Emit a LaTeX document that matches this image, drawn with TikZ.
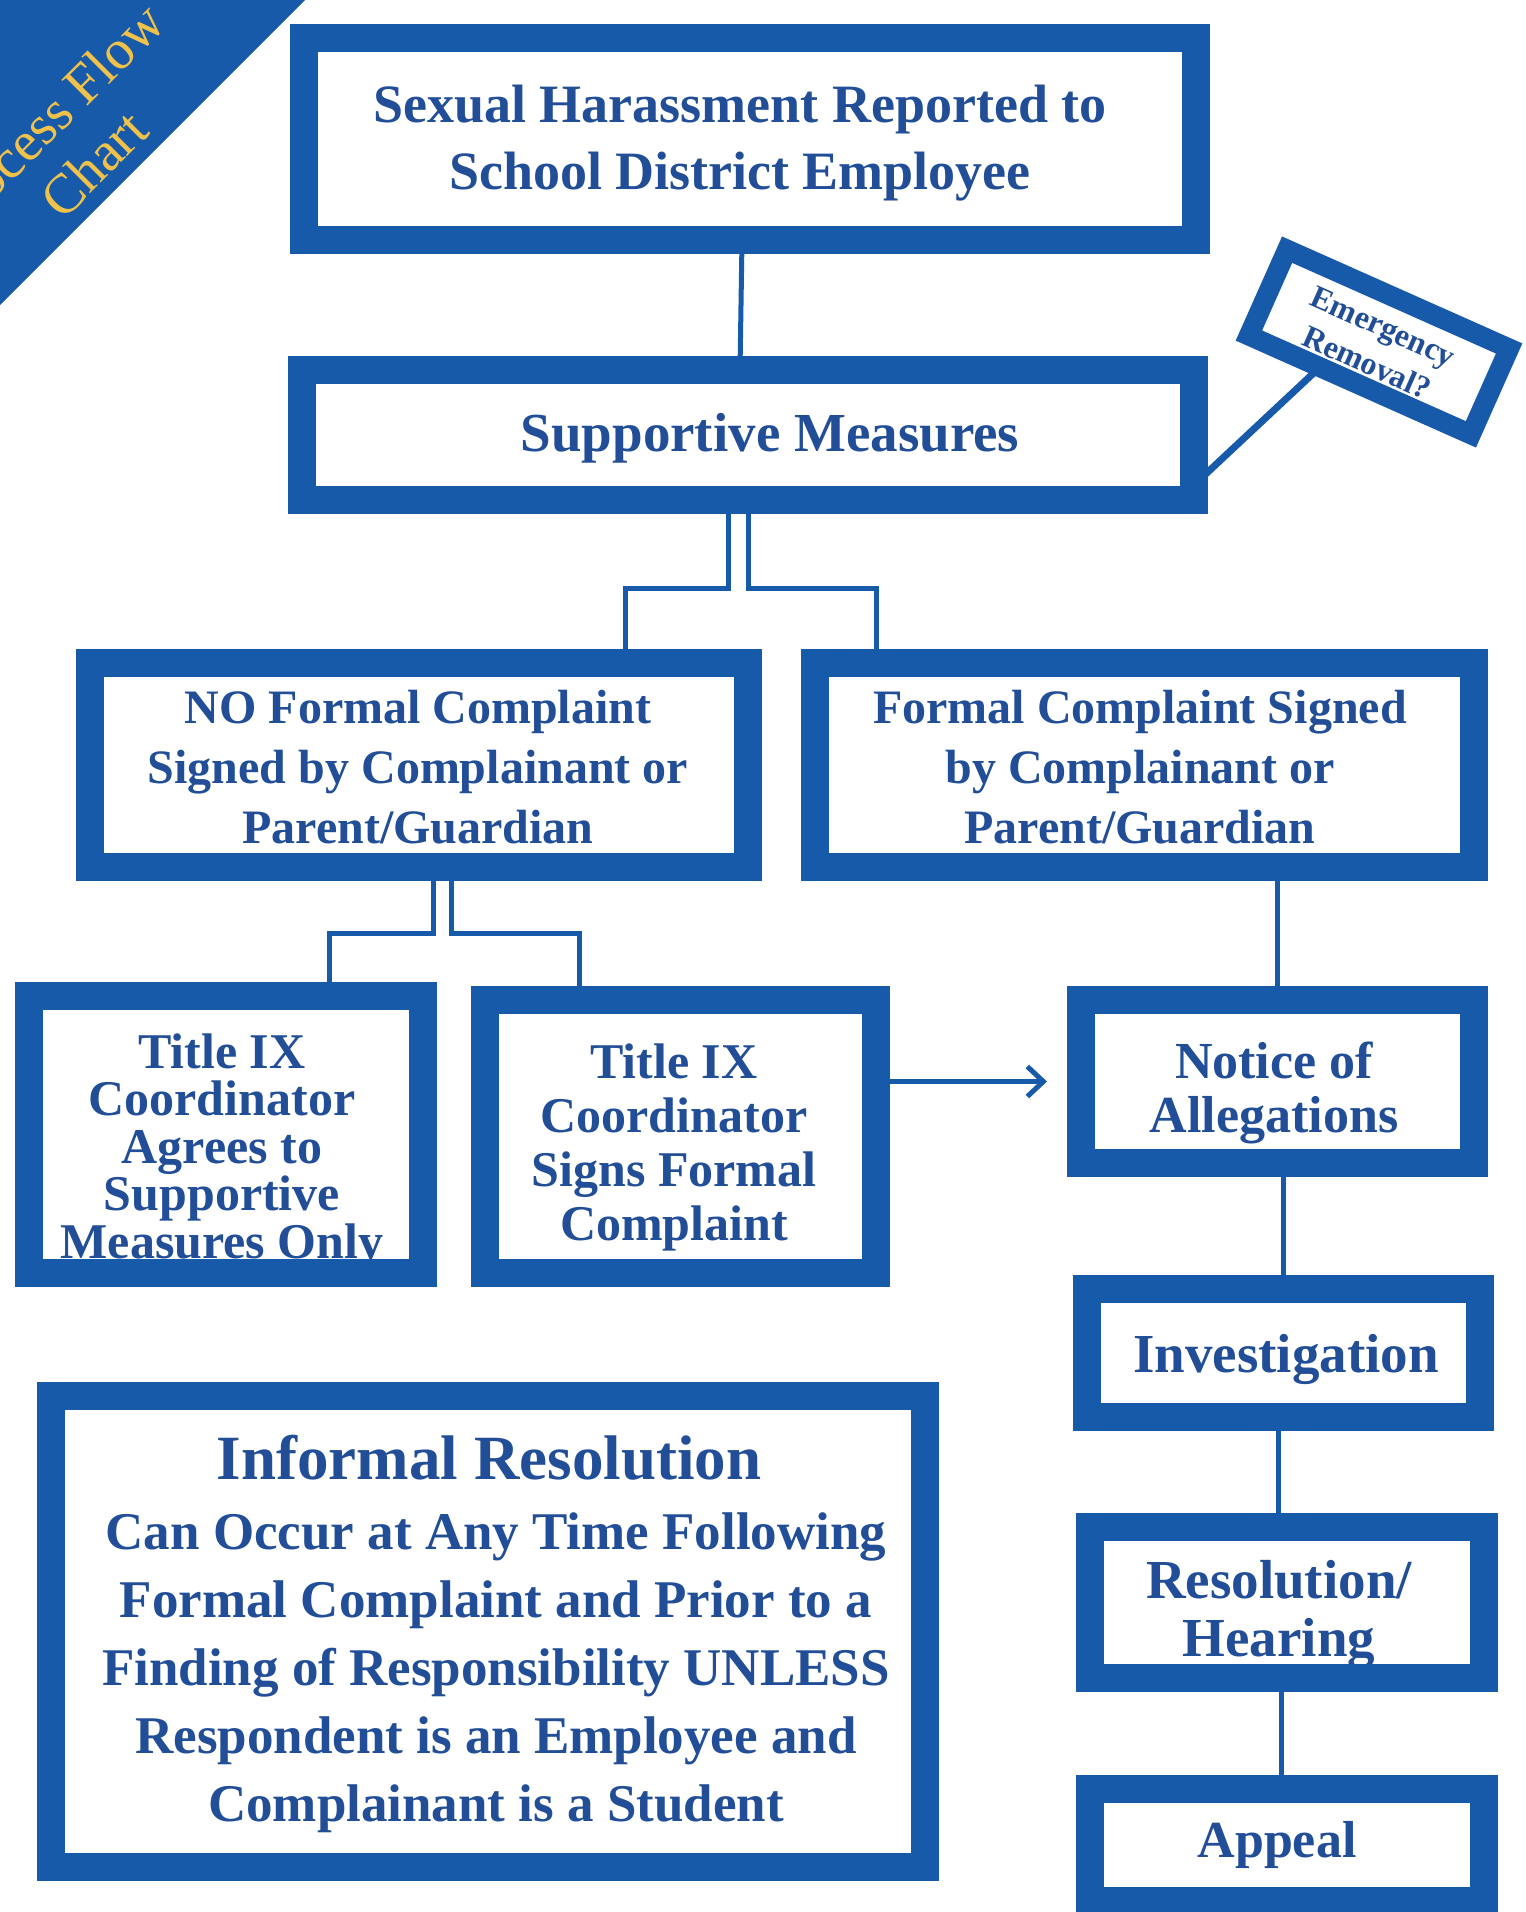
\documentclass[tikz,border=0pt]{standalone}
\usepackage{fontspec}
\setmainfont{Liberation Serif}
\usetikzlibrary{calc,arrows.meta}
\definecolor{frameblue}{HTML}{185AAA}
\definecolor{textblue}{HTML}{214E96}
\definecolor{bannergold}{HTML}{F0C24A}
\newcommand{\fs}[2]{\fontsize{#1}{#2}\selectfont}
\begin{document}
\begin{tikzpicture}[x=1pt,y=-1pt,
  frame/.style={draw=frameblue,line width=28pt,inner sep=0pt,outer sep=0pt,rectangle},
  conn/.style={draw=frameblue,line width=5pt},
  txt/.style={text=textblue,align=center,inner sep=0pt,anchor=base}]
\useasboundingbox (0,0) rectangle (1526,1912);
\clip (0,0) rectangle (1526,1912);
\fill[white] (0,0) rectangle (1526,1912);

% corner banner
\fill[frameblue] (0,0) -- (305,0) -- (0,305) -- cycle;
\node[rotate=45,text=bannergold,font=\fs{56}{64},align=center,inner sep=0pt] (bannertxt) at (71,141) {Process Flow\\Chart};

% texts (drawn first so the frames overlap them); y = baseline of last line
\node[txt,font=\bfseries\fs{54}{67}] (t1) at (740,189) {Sexual Harassment Reported to\\School District Employee};
\node[txt,font=\bfseries\fs{55}{66}] (t2) at (770,451) {Supportive Measures};
\node[txt,font=\bfseries\fs{48}{60}] (t3) at (418,843) {NO Formal Complaint\\Signed by Complainant or\\Parent/Guardian};
\node[txt,font=\bfseries\fs{48}{60}] (t4) at (1140,843) {Formal Complaint Signed\\by Complainant or\\Parent/Guardian};
\node[txt,font=\bfseries\fs{50}{47.5}] (t5) at (222,1258) {Title IX\\Coordinator\\Agrees to\\Supportive\\Measures Only};
\node[txt,font=\bfseries\fs{50}{54}] (t6) at (674,1240) {Title IX\\Coordinator\\Signs Formal\\Complaint};
\node[txt,font=\bfseries\fs{52}{54}] (t7) at (1274,1132) {Notice of\\Allegations};
\node[txt,font=\bfseries\fs{55}{66}] (t8) at (1286,1372) {Investigation};
\node[txt,font=\bfseries\fs{55}{58}] (t9) at (1279,1656) {Resolution/\\Hearing};
\node[txt,font=\bfseries\fs{52}{62}] (t10) at (1277,1857) {Appeal};
\node[txt,font=\bfseries\fs{63}{70}] (t11) at (489,1479) {Informal Resolution};
\node[txt,font=\bfseries\fs{53}{68}] (t12) at (496,1821) {Can Occur at Any Time Following\\Formal Complaint and Prior to a\\Finding of Responsibility UNLESS\\Respondent is an Employee and\\Complainant is a Student};
\node[txt,anchor=center,rotate=-24,font=\bfseries\fs{32}{40}] (emt) at (1375,345) {Emergency\\Removal?};

% frames
\node[frame,minimum width=892pt,minimum height=202pt] (b1) at (750,139) {};
\node[frame,minimum width=892pt,minimum height=130pt] (b2) at (748,435) {};
\node[frame,minimum width=658pt,minimum height=204pt] (nofc) at (419,765) {};
\node[frame,minimum width=659pt,minimum height=204pt] (fc) at (1144.5,765) {};
\node[frame,minimum width=394pt,minimum height=277pt] (agree) at (226,1134.5) {};
\node[frame,minimum width=391pt,minimum height=273pt] (signs) at (680.5,1136.5) {};
\node[frame,minimum width=393pt,minimum height=163pt] (notice) at (1277.5,1081.5) {};
\node[frame,minimum width=393pt,minimum height=128pt] (inv) at (1283.5,1353) {};
\node[frame,minimum width=394pt,minimum height=151pt] (res) at (1287,1602.5) {};
\node[frame,minimum width=394pt,minimum height=112pt] (app) at (1287,1845) {};
\node[frame,minimum width=874pt,minimum height=471pt] (inf) at (488,1631.5) {};
\node[frame,line width=20pt,minimum width=243pt,minimum height=94pt,rotate=-24] (em) at (1379,342) {};

% connectors
\draw[conn] ([xshift=-8pt]b1.south) -- ([xshift=-8pt]b2.north);
\coordinate (fkL) at (625,588);
\coordinate (fkR) at (876,588);
\draw[conn] ([xshift=-20pt]b2.south) |- (fkL) -- (fkL |- nofc.north);
\draw[conn] (b2.south) |- (fkR) -- (fkR |- fc.north);
\coordinate (gkL) at (329,933);
\coordinate (gkR) at (579,933);
\draw[conn] ([xshift=14pt]nofc.south) |- (gkL) -- (gkL |- agree.north);
\draw[conn] ([xshift=32pt]nofc.south) |- (gkR) -- (gkR |- signs.north);
\draw[conn] (notice.north |- fc.south) -- (notice.north);
\draw[conn] (inv.north |- notice.south) -- (inv.north);
\draw[conn] ([xshift=-9pt]res.north |- inv.south) -- ([xshift=-9pt]res.north);
\draw[conn] ([xshift=-6pt]app.north |- res.south) -- ([xshift=-6pt]app.north);
\draw[conn,-{Straight Barb[length=16pt,width=30pt,line width=5pt]}] (signs.east |- notice.west) -- ($(notice.west)+(-34,0)$);
\draw[conn,line width=7pt] ([yshift=-50pt]b2.east) -- ($(em.south west)!0.32!(em.south east)$);
\end{tikzpicture}
\end{document}
